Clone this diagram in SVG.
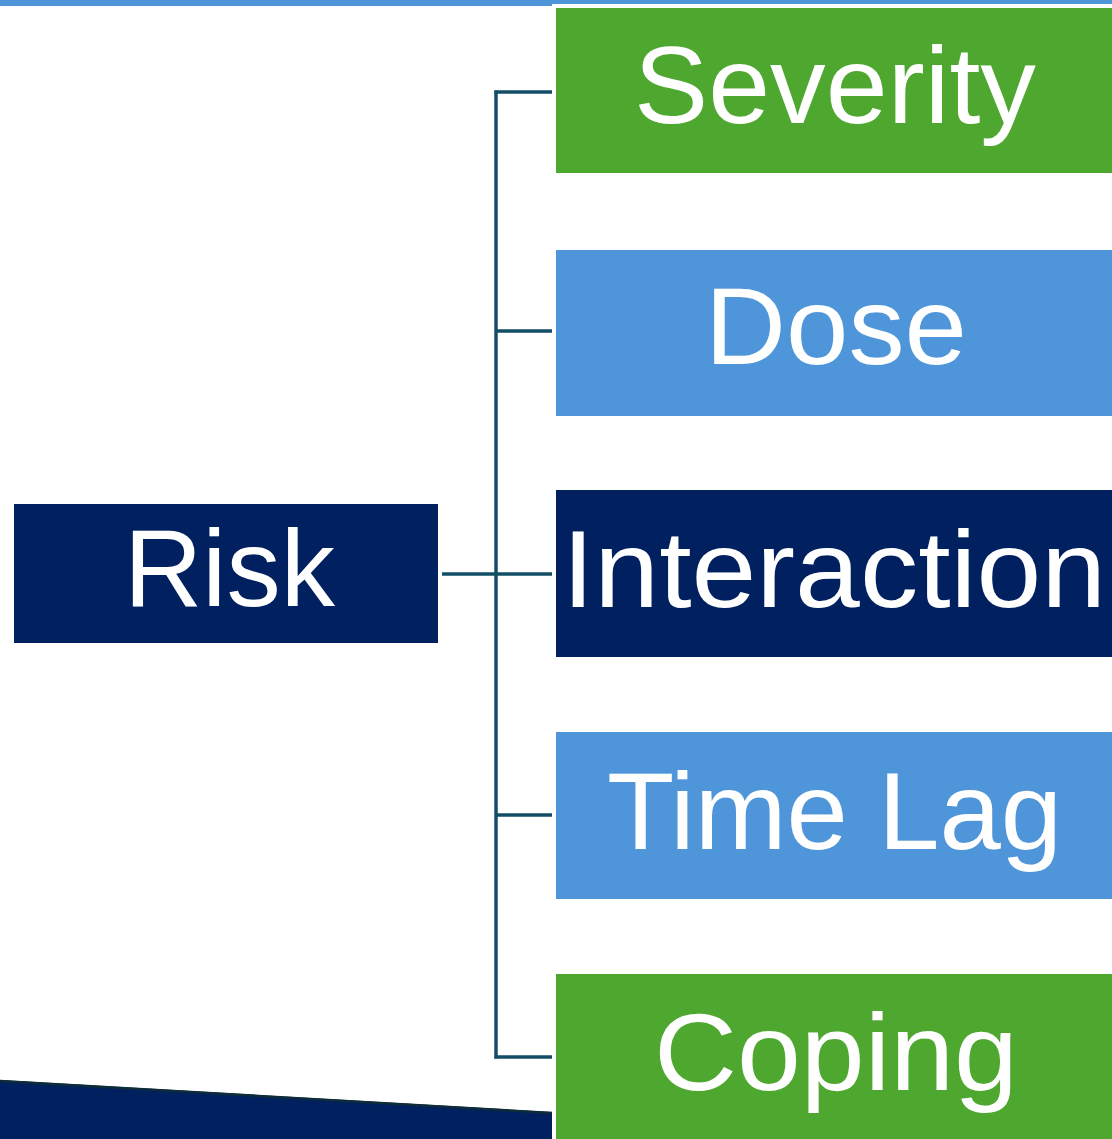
<svg xmlns="http://www.w3.org/2000/svg" width="1112" height="1139" viewBox="0 0 1112 1139">
  <style>
    .label { font-family: "Liberation Sans", Arial, sans-serif; font-size: 109px; fill: #ffffff; text-anchor: middle; }
    .green { fill: #4ea72e; }
    .blue { fill: #4f95d9; }
    .navy { fill: #002060; }
    .link { stroke: #124e66; stroke-width: 3.5; fill: none; }
  </style>

  <rect x="0" y="0" width="1112" height="1139" fill="#ffffff"/>

  <!-- slide decoration: top band and bottom wedge -->
  <g id="decoration">
    <rect x="0" y="0" width="552" height="6" class="blue"/>
    <rect x="552" y="0" width="560" height="4" class="blue"/>
    <polygon points="0,1080 552,1112 552,1139 0,1139" class="navy"/>
    <line x1="0" y1="1081" x2="552" y2="1113" stroke="#0d2b38" stroke-width="2.5"/>
  </g>

  <!-- tree connectors -->
  <g id="connectors">
    <line class="link" x1="496" y1="90.5" x2="496" y2="1058.5"/>
    <line class="link" x1="494.5" y1="92" x2="552" y2="92"/>
    <line class="link" x1="496" y1="331" x2="552" y2="331"/>
    <line class="link" x1="442" y1="574" x2="552" y2="574" stroke-width="4"/>
    <line class="link" x1="496" y1="815" x2="552" y2="815"/>
    <line class="link" x1="494.5" y1="1057" x2="552" y2="1057"/>
  </g>

  <g id="node-risk">
    <rect x="14" y="504" width="424" height="139" class="navy"/>
    <text x="229.5" y="606" class="label" textLength="211" lengthAdjust="spacingAndGlyphs">Risk</text>
  </g>

  <g id="node-severity">
    <rect x="556" y="8" width="556" height="165" class="green"/>
    <text x="835" y="123" class="label" textLength="402" lengthAdjust="spacingAndGlyphs">Severity</text>
  </g>

  <g id="node-dose">
    <rect x="556" y="250" width="556" height="166" class="blue"/>
    <text x="836" y="364" class="label" textLength="262" lengthAdjust="spacingAndGlyphs">Dose</text>
  </g>

  <g id="node-interaction">
    <rect x="556" y="490" width="556" height="167" class="navy"/>
    <text x="834" y="607" class="label" textLength="544" lengthAdjust="spacingAndGlyphs">Interaction</text>
  </g>

  <g id="node-time-lag">
    <rect x="556" y="732" width="556" height="167" class="blue"/>
    <text x="834.5" y="849" class="label" textLength="455" lengthAdjust="spacingAndGlyphs">Time Lag</text>
  </g>

  <g id="node-coping">
    <rect x="556" y="974" width="556" height="165" class="green"/>
    <text x="836" y="1090" class="label" textLength="364" lengthAdjust="spacingAndGlyphs">Coping</text>
  </g>
</svg>
